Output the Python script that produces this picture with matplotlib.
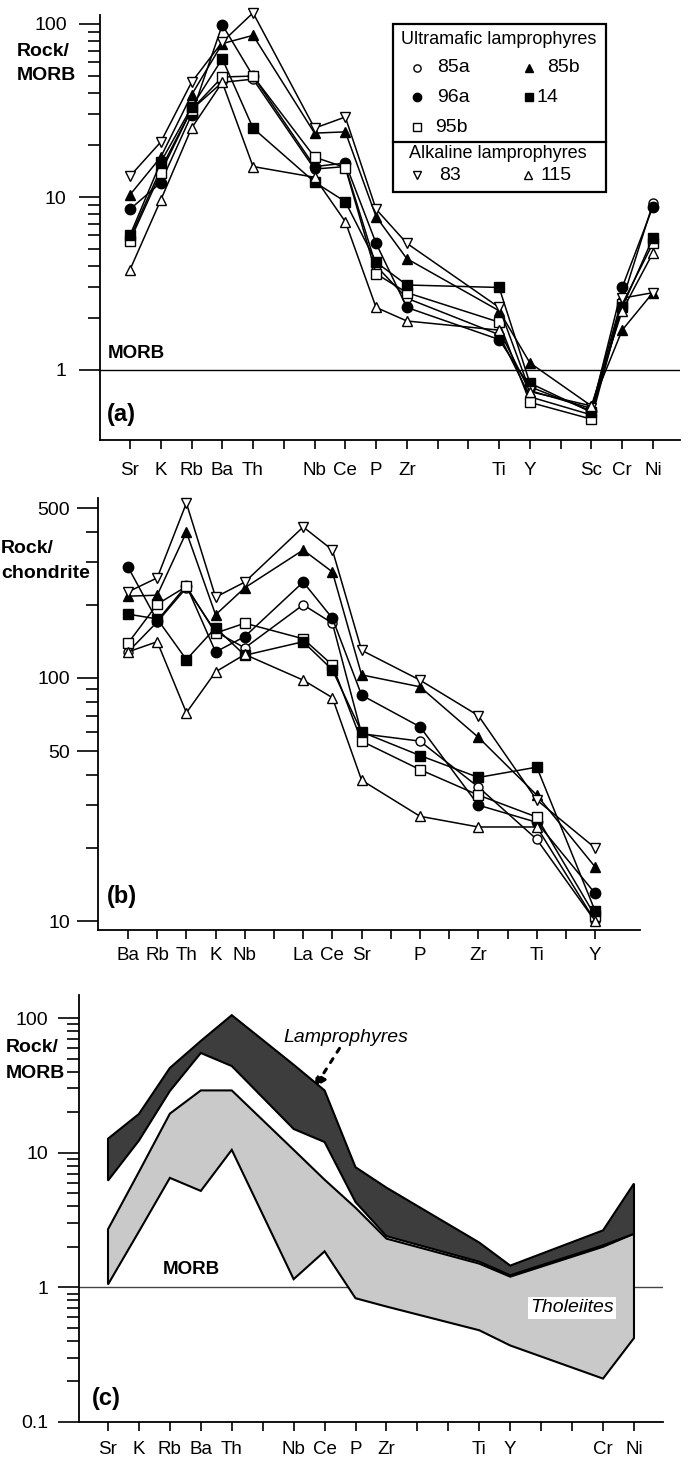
import matplotlib
matplotlib.use("Agg")
import matplotlib.pyplot as plt
from matplotlib.lines import Line2D
from matplotlib.patches import Rectangle, Polygon
from matplotlib.ticker import FixedLocator, NullFormatter
import numpy as np

plt.rcParams['font.family'] = ['Liberation Sans', 'DejaVu Sans']

W, H, DPI = 688, 1457, 100

# ---------------- Panel (a): Rock/MORB ----------------
ticks_a = ["Sr", "K", "Rb", "Ba", "Th", "", "Nb", "Ce", "P", "Zr", "", "", "Ti", "Y", "", "Sc", "Cr", "Ni"]
elems_a = ["Sr", "K", "Rb", "Ba", "Th", "Nb", "Ce", "P", "Zr", "Ti", "Y", "Sc", "Cr", "Ni"]
a_85a = [5.8, 14.5, 32, 46, 48, 14.5, 15.0, 4.0, 2.6, 1.6, 0.70, 0.55, 2.5, 9.2]
a_96a = [8.5, 12.1, 29.8, 99, 50, 15.0, 15.7, 5.4, 2.3, 1.5, 0.80, 0.58, 3.0, 8.8]
a_95b = [5.6, 13.8, 32, 49.4, 50, 17, 14.8, 3.6, 2.8, 1.89, 0.65, 0.52, 2.4, 5.4]
a_85b = [10.3, 17, 38.9, 77, 86, 23.4, 23.8, 7.7, 4.4, 2.2, 1.1, 0.62, 1.7, 2.8]
a_14 = [6.0, 15.9, 33, 63, 25, 12.2, 9.4, 4.2, 3.1, 3.0, 0.84, 0.57, 2.3, 5.8]
a_83 = [13.2, 20.8, 46, 78.7, 116, 25, 29, 8.5, 5.4, 2.3, 0.76, 0.60, 2.6, 2.8]
a_115 = [3.8, 9.6, 25, 46, 15, 13, 7.2, 2.3, 1.92, 1.7, 0.75, 0.62, 2.2, 4.75]

# ---------------- Panel (b): Rock/chondrite ----------------
ticks_b = ["Ba", "Rb", "Th", "K", "Nb", "", "La", "Ce", "Sr", "", "P", "", "Zr", "", "Ti", "", "Y"]
elems_b = ["Ba", "Rb", "Th", "K", "Nb", "La", "Ce", "Sr", "P", "Zr", "Ti", "Y"]
b_85a = [128, 170, 235, 155, 133, 200, 168, 59, 55, 35.6, 21.7, 10.0]
b_96a = [286, 172, 240, 128, 148, 248, 176, 85, 63, 30, 25.5, 13]
b_95b = [139, 201, 238, 153, 168, 145, 113, 55, 42, 33, 26.8, 10.5]
b_85b = [217, 219, 398, 182, 235, 336, 273, 103, 92, 57, 33, 16.7]
b_14 = [183, 175, 119, 161, 124, 141, 108, 60, 48, 39, 43, 11]
b_83 = [226, 258, 524, 215, 248, 418, 336, 130, 98, 70, 31.5, 20]
b_115 = [128, 141, 72, 106, 125, 98, 83, 38, 27, 24.4, 24.4, 10]

# ---------------- Panel (c): fields ----------------
ticks_c = ["Sr", "K", "Rb", "Ba", "Th", "", "Nb", "Ce", "P", "Zr", "", "", "Ti", "Y", "", "", "Cr", "Ni"]
elems_c = ["Sr", "K", "Rb", "Ba", "Th", "Nb", "Ce", "P", "Zr", "Ti", "Y", "Cr", "Ni"]
lamp_upper = [12.7, 19.4, 42.6, 67.6, 105, 45, 29, 7.8, 5.5, 2.15, 1.45, 2.65, 5.9]
lamp_lower = [6.2, 12.3, 28.7, 55, 44, 15, 12, 4.3, 2.4, 1.55, 1.23, 2.05, 2.5]
thol_upper = [2.7, 7.2, 19.5, 29, 29, 10.5, 6.3, 3.9, 2.3, 1.5, 1.2, 2.0, 2.5]
thol_lower = [1.05, 2.6, 6.5, 5.2, 10.5, 1.15, 1.85, 0.83, 0.72, 0.48, 0.37, 0.21, 0.42]

series = ["85a", "96a", "95b", "85b", "14", "83", "115"]
styles = {"85a": ("o", "white", 6.5), "96a": ("o", "black", 7.5), "95b": ("s", "white", 6.5),
          "85b": ("^", "black", 7.5), "14": ("s", "black", 7.5), "83": ("v", "white", 7),
          "115": ("^", "white", 7)}

fig = plt.figure(figsize=(W / DPI, H / DPI), dpi=DPI, facecolor="white")


def fx(x):
    return x / W


def fy(y):
    return 1 - y / H


def px_axes(l, t, r, b):
    return fig.add_axes([l / W, 1 - b / H, (r - l) / W, (b - t) / H])


def style(ax, xlabels, xlim, ylim, major, major_lbl, minor, ypad=7, xpad=6):
    ax.set_yscale("log")
    ax.set_xlim(*xlim)
    ax.set_ylim(*ylim)
    for s in ["top", "right"]:
        ax.spines[s].set_visible(False)
    for s in ["left", "bottom"]:
        ax.spines[s].set_linewidth(1.3)
    ax.yaxis.set_major_locator(FixedLocator(major))
    ax.set_yticklabels(major_lbl)
    ax.yaxis.set_minor_locator(FixedLocator(minor))
    ax.yaxis.set_minor_formatter(NullFormatter())
    ax.set_xticks(range(len(xlabels)))
    ax.set_xticklabels(xlabels)
    ax.tick_params(axis="y", which="major", direction="out", length=15, width=1.2, labelsize=14, pad=ypad)
    ax.tick_params(axis="y", which="minor", direction="out", length=8.5, width=1.2)
    ax.tick_params(axis="x", which="major", direction="out", length=6.5, width=1.2, labelsize=13.5, pad=xpad)
    ax.patch.set_alpha(0)


# ---- axes (a)
x0a, dxa = 130, 30.76
axa = px_axes(100, 15, 680, 440)
ya = lambda p: 10 ** ((370 - p) / 173.0)
style(axa, ticks_a, ((100 - x0a) / dxa, (680 - x0a) / dxa), (ya(440), ya(15)),
      [1, 10, 100], ["1", "10", "100"],
      [2, 3, 4, 5, 6, 7, 8, 9, 20, 30, 40, 50, 60, 70, 80, 90], ypad=9, xpad=9)
axa.axhline(1, color="black", lw=1.0, zorder=1)
data_a = {"85a": a_85a, "96a": a_96a, "95b": a_95b, "85b": a_85b, "14": a_14, "83": a_83, "115": a_115}
xa = [ticks_a.index(e) for e in elems_a]
for s in series:
    m, fc, ms = styles[s]
    axa.plot(xa, data_a[s], color="black", lw=1.1, marker=m, mfc=fc, mec="black",
             mew=1.0, ms=ms, clip_on=False, zorder=3)

# ---- axes (b)
x0b, dxb = 128, 29.2
axb = px_axes(98, 498, 640, 930)
yb = lambda p: 10 ** (2 + (678 - p) / 243.2)
style(axb, ticks_b, ((98 - x0b) / dxb, (640 - x0b) / dxb), (yb(930), yb(498)),
      [10, 50, 100, 500], ["10", "50", "100", "500"],
      [20, 30, 40, 60, 70, 80, 90, 200, 300, 400], ypad=5, xpad=6)
data_b = {"85a": b_85a, "96a": b_96a, "95b": b_95b, "85b": b_85b, "14": b_14, "83": b_83, "115": b_115}
xb = [ticks_b.index(e) for e in elems_b]
for s in series:
    m, fc, ms = styles[s]
    axb.plot(xb, data_b[s], color="black", lw=1.1, marker=m, mfc=fc, mec="black",
             mew=1.0, ms=ms, clip_on=False, zorder=3)

# ---- axes (c)
x0c, dxc = 108, 30.94
axc = px_axes(79, 995, 663, 1422)
yc = lambda p: 10 ** ((1287 - p) / 134.5)
style(axc, ticks_c, ((79 - x0c) / dxc, (663 - x0c) / dxc), (0.1, yc(995)),
      [0.1, 1, 10, 100], ["0.1", "1", "10", "100"],
      [0.2, 0.3, 0.4, 0.5, 0.6, 0.7, 0.8, 0.9, 2, 3, 4, 5, 6, 7, 8, 9,
       20, 30, 40, 50, 60, 70, 80, 90], ypad=7, xpad=7)
axc.axhline(1, color="#444444", lw=1.0, zorder=1)
xc = [ticks_c.index(e) for e in elems_c]
thol_xy = list(zip(xc, thol_upper)) + list(zip(xc[::-1], thol_lower[::-1]))
lamp_xy = list(zip(xc, lamp_upper)) + list(zip(xc[::-1], lamp_lower[::-1]))
axc.add_patch(Polygon(thol_xy, closed=True, facecolor="#c9c9c9", edgecolor="black", lw=1.5, zorder=2))
axc.add_patch(Polygon(lamp_xy, closed=True, facecolor="#3d3d3d", edgecolor="black", lw=1.5, zorder=3))

# ---------------- texts ----------------
bold = dict(fontweight="bold", fontsize=14, ha="left", va="center")
fig.text(fx(17), fy(52), "Rock/", **bold)
fig.text(fx(17), fy(76), "MORB", **bold)
fig.text(fx(108), fy(354), "MORB", fontweight="bold", fontsize=13.5, ha="left", va="center")
fig.text(fx(107), fy(415), "(a)", fontweight="bold", fontsize=17, ha="left", va="center")

fig.text(fx(1), fy(548), "Rock/", **bold)
fig.text(fx(1), fy(573), "chondrite", **bold)
fig.text(fx(107), fy(897), "(b)", fontweight="bold", fontsize=17, ha="left", va="center")

fig.text(fx(6), fy(1048), "Rock/", **bold)
fig.text(fx(6), fy(1073), "MORB", **bold)
fig.text(fx(163), fy(1270), "MORB", fontweight="bold", fontsize=13.5, ha="left", va="center")
fig.text(fx(92), fy(1398), "(c)", fontweight="bold", fontsize=17, ha="left", va="center")
fig.text(fx(283), fy(1037), "Lamprophyres", style="italic", fontsize=14, ha="left", va="center")
fig.text(fx(530), fy(1308), "Tholeiites", style="italic", fontsize=14, ha="left", va="center",
         bbox=dict(facecolor="white", edgecolor="none", pad=1.5), zorder=5)
fig.add_artist(matplotlib.patches.FancyArrowPatch(
    (fx(341), fy(1046)), (fx(313), fy(1090)), transform=fig.transFigure,
    arrowstyle="-|>", mutation_scale=16, linestyle=(0, (1.5, 2.5)), lw=2.2, color="black", zorder=6))

# ---------------- legend (a) ----------------
fig.add_artist(Rectangle((fx(393), fy(192)), fx(606) - fx(393), fy(24) - fy(192),
                         transform=fig.transFigure, facecolor="white", edgecolor="black", lw=1.6, zorder=4))
fig.add_artist(Line2D([fx(393), fx(606)], [fy(142), fy(142)], transform=fig.transFigure,
                      color="black", lw=1.6, zorder=5))
fig.text(fx(401), fy(40), "Ultramafic lamprophyres", fontsize=13, ha="left", va="center", zorder=6)
fig.text(fx(409), fy(154), "Alkaline lamprophyres", fontsize=13, ha="left", va="center", zorder=6)
leg_items = [("85a", 417, 68, 437), ("96a", 417, 97, 437), ("95b", 417, 127, 435),
             ("85b", 529, 68, 547), ("14", 529, 97, 537), ("83", 417, 175, 439), ("115", 528, 175, 540)]
for name, mx, my, tx in leg_items:
    m, fc, ms = styles[name]
    fig.add_artist(Line2D([fx(mx)], [fy(my)], transform=fig.transFigure, marker=m, mfc=fc,
                          mec="black", mew=1.0, ms=ms * 0.8, ls="none", zorder=6))
    fig.text(fx(tx), fy(my), name, fontsize=14, ha="left", va="center", zorder=6)

fig.savefig("out.png", dpi=DPI, facecolor="white")
